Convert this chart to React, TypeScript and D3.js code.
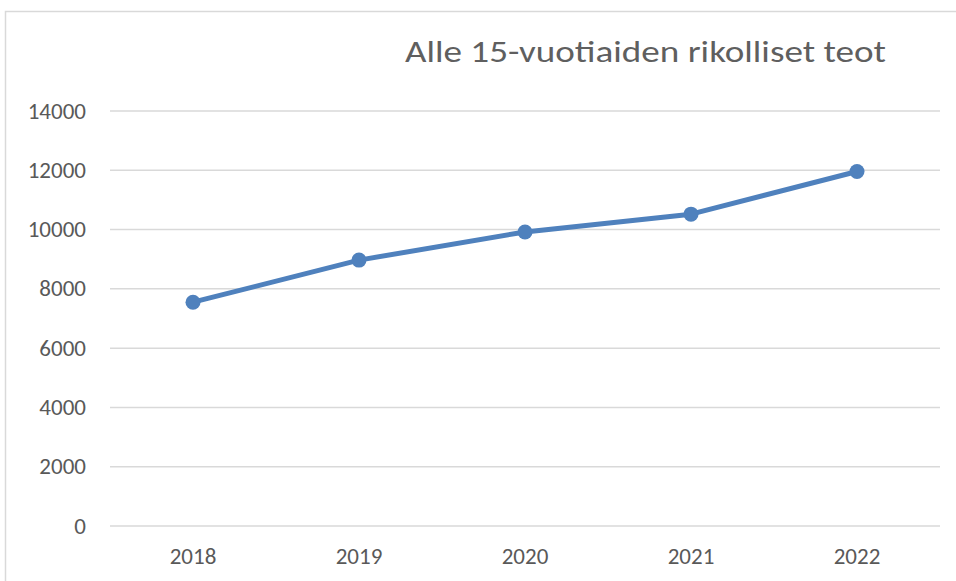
import React from "react";
import * as d3 from "d3";

const years = ["2018", "2019", "2020", "2021", "2022"];
const values = [7550, 8970, 9920, 10520, 11960];
const yTicks = [0, 2000, 4000, 6000, 8000, 10000, 12000, 14000];
const title = "Alle 15-vuotiaiden rikolliset teot";

export default function App() {
  const W = 956, H = 581;
  const x = d3.scaleBand<string>().domain(years).range([110, 940]);
  const y = d3.scaleLinear().domain([0, 14000]).range([526, 111]);
  const line = d3
    .line<number>()
    .x((_, i) => (x(years[i]) as number) + x.bandwidth() / 2)
    .y((d) => y(d));
  const font = "Calibri, Carlito, 'Open Sans', 'Liberation Sans', sans-serif";
  return (
    <svg width={W} height={H} style={{ position: "absolute", left: 0, top: 0, background: "#fff" }}>
      <rect x={5.5} y={11.5} width={1000} height={700} fill="#fff" stroke="#d9d9d9" strokeWidth={1.5} />
      <text x={405} y={62} textAnchor="start" fontFamily={font} fontSize={30} fill="#5f5f5f" textLength={481} lengthAdjust="spacingAndGlyphs">
        {title}
      </text>
      {yTicks.map((t) => (
        <g key={t}>
          <line x1={110} x2={940} y1={y(t)} y2={y(t)} stroke="#d9d9d9" strokeWidth={1.5} />
          <text x={86} y={y(t) + 7.5} textAnchor="end" fontFamily={font} fontSize={23} fill="#595959">
            {t}
          </text>
        </g>
      ))}
      {years.map((yr) => (
        <text key={yr} x={(x(yr) as number) + x.bandwidth() / 2} y={564} textAnchor="middle" fontFamily={font} fontSize={23} fill="#595959">
          {yr}
        </text>
      ))}
      <path d={line(values) || ""} fill="none" stroke="#4f81bd" strokeWidth={5} strokeLinejoin="round" strokeLinecap="round" />
      {values.map((v, i) => (
        <circle key={i} cx={(x(years[i]) as number) + x.bandwidth() / 2} cy={y(v)} r={7.5} fill="#4f81bd" />
      ))}
    </svg>
  );
}
